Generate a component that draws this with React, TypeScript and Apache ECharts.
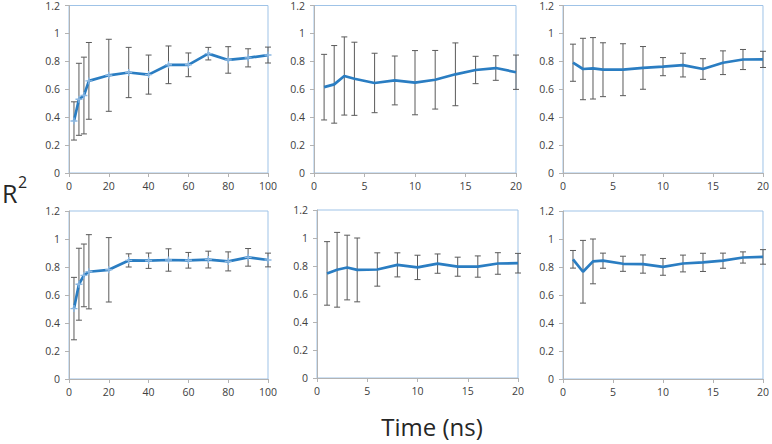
import React, { useEffect, useRef } from "react";
import * as echarts from "echarts";

const timeLong = [2.5, 5, 7.5, 10, 20, 30, 40, 50, 60, 70, 80, 90, 100];
const timeShort = [1, 2, 3, 4, 6, 8, 10, 12, 14, 16, 18, 20];

const p1Mean = [0.373, 0.528, 0.555, 0.66, 0.7, 0.72, 0.705, 0.775, 0.775, 0.855, 0.81, 0.825, 0.845];
const p1Err = [0.137, 0.258, 0.275, 0.275, 0.258, 0.18, 0.14, 0.135, 0.085, 0.045, 0.095, 0.065, 0.057];

const p2Mean = [0.615, 0.635, 0.695, 0.675, 0.645, 0.663, 0.647, 0.668, 0.707, 0.738, 0.752, 0.722];
const p2Err = [0.235, 0.278, 0.28, 0.262, 0.213, 0.175, 0.23, 0.21, 0.225, 0.098, 0.088, 0.123];

const p3Mean = [0.79, 0.745, 0.75, 0.74, 0.74, 0.753, 0.762, 0.773, 0.745, 0.79, 0.813, 0.814];
const p3Err = [0.133, 0.22, 0.22, 0.193, 0.186, 0.153, 0.065, 0.085, 0.074, 0.085, 0.072, 0.058];

const p4Mean = [0.503, 0.677, 0.74, 0.766, 0.78, 0.847, 0.845, 0.85, 0.848, 0.853, 0.84, 0.869, 0.85];
const p4Err = [0.223, 0.257, 0.224, 0.265, 0.23, 0.047, 0.055, 0.08, 0.056, 0.06, 0.068, 0.063, 0.049];

const p5Mean = [0.747, 0.773, 0.789, 0.772, 0.775, 0.808, 0.79, 0.817, 0.795, 0.796, 0.818, 0.82];
const p5Err = [0.227, 0.267, 0.231, 0.228, 0.119, 0.086, 0.087, 0.069, 0.068, 0.076, 0.077, 0.07];

const p6Mean = [0.855, 0.766, 0.84, 0.845, 0.823, 0.821, 0.801, 0.825, 0.833, 0.845, 0.868, 0.872];
const p6Err = [0.063, 0.224, 0.16, 0.054, 0.054, 0.065, 0.06, 0.06, 0.065, 0.054, 0.04, 0.052];

const yTicks = { min: 0, max: 1.2, interval: 0.2 };
const xLongTicks = { min: 0, max: 100, interval: 20 };
const xShortTicks = { min: 0, max: 20, interval: 5 };

const panels = [
  { x: timeLong, mean: p1Mean, err: p1Err, ticks: xLongTicks, marker: true, grid: { left: 69, top: 5, width: 199, height: 168 } },
  { x: timeShort, mean: p2Mean, err: p2Err, ticks: xShortTicks, marker: false, grid: { left: 314, top: 5, width: 202, height: 168 } },
  { x: timeShort, mean: p3Mean, err: p3Err, ticks: xShortTicks, marker: false, grid: { left: 563, top: 5, width: 202, height: 168 } },
  { x: timeLong, mean: p4Mean, err: p4Err, ticks: xLongTicks, marker: true, grid: { left: 69, top: 211, width: 199, height: 168 } },
  { x: timeShort, mean: p5Mean, err: p5Err, ticks: xShortTicks, marker: false, grid: { left: 317, top: 210, width: 201, height: 168 } },
  { x: timeShort, mean: p6Mean, err: p6Err, ticks: xShortTicks, marker: false, grid: { left: 563, top: 211, width: 202, height: 168 } },
];

const FONT = "'Open Sans', sans-serif";
const LABEL_COLOR = "#404040";
const AXIS_COLOR = "#b3b3b3";
const BORDER_COLOR = "#9fc3e7";
const LINE_COLOR = "#2a7dc2";
const ERR_COLOR = "#5a5a5a";

export default function App() {
  const ref = useRef<HTMLDivElement>(null);
  useEffect(() => {
    if (!ref.current) return;
    const chart = echarts.init(ref.current, null, { renderer: "svg" });

    const grid: any[] = [];
    const xAxis: any[] = [];
    const yAxis: any[] = [];
    const series: any[] = [];

    panels.forEach((p, i) => {
      grid.push({
        ...p.grid,
        show: true,
        borderColor: BORDER_COLOR,
        borderWidth: 1,
        backgroundColor: "#ffffff",
        containLabel: false,
      });
      xAxis.push({
        type: "value",
        gridIndex: i,
        min: p.ticks.min,
        max: p.ticks.max,
        interval: p.ticks.interval,
        splitLine: { show: false },
        axisLine: { show: true, onZero: false, lineStyle: { color: AXIS_COLOR, width: 1 } },
        axisTick: { show: true, inside: false, length: 4, lineStyle: { color: AXIS_COLOR } },
        axisLabel: { color: LABEL_COLOR, fontFamily: FONT, fontSize: 10.5, margin: 7, showMaxLabel: true, showMinLabel: true },
      });
      yAxis.push({
        type: "value",
        gridIndex: i,
        min: yTicks.min,
        max: yTicks.max,
        interval: yTicks.interval,
        splitLine: { show: false },
        axisLine: { show: true, lineStyle: { color: AXIS_COLOR, width: 1 } },
        axisTick: { show: true, inside: false, length: 4, lineStyle: { color: AXIS_COLOR } },
        axisLabel: { color: LABEL_COLOR, fontFamily: FONT, fontSize: 10.5, margin: 9 },
      });
      const errData = p.x.map((t, k) => [t, p.mean[k] - p.err[k], p.mean[k] + p.err[k]]);
      series.push({
        type: "custom",
        xAxisIndex: i,
        yAxisIndex: i,
        clip: false,
        z: 1,
        data: errData,
        renderItem: (_params: any, api: any) => {
          const x = api.value(0);
          const lo = api.coord([x, api.value(1)]);
          const hi = api.coord([x, api.value(2)]);
          const w = 3;
          const style = { stroke: ERR_COLOR, lineWidth: 1 };
          return {
            type: "group",
            children: [
              { type: "line", shape: { x1: hi[0], y1: hi[1], x2: lo[0], y2: lo[1] }, style },
              { type: "line", shape: { x1: hi[0] - w, y1: hi[1], x2: hi[0] + w, y2: hi[1] }, style },
              { type: "line", shape: { x1: lo[0] - w, y1: lo[1], x2: lo[0] + w, y2: lo[1] }, style },
            ],
          };
        },
      });
      series.push({
        type: "line",
        xAxisIndex: i,
        yAxisIndex: i,
        z: 2,
        data: p.x.map((t, k) => [t, p.mean[k]]),
        lineStyle: { color: LINE_COLOR, width: 2.7 },
        itemStyle: { color: "#8cb8e2" },
        showSymbol: p.marker,
        symbol: p.marker ? "path://M4,0H6V4H10V6H6V10H4V6H0V4H4Z" : "none",
        symbolSize: 7,
        clip: false,
      });
    });

    chart.setOption({
      animation: false,
      backgroundColor: "#ffffff",
      grid,
      xAxis,
      yAxis,
      series,
      graphic: [
        { type: "text", left: 2, top: 180, style: { text: "R", font: `25px ${FONT}`, fill: "#262626" } },
        { type: "text", left: 18, top: 174, style: { text: "2", font: `16px ${FONT}`, fill: "#262626" } },
        {
          type: "text",
          x: 432,
          y: 426,
          style: { text: "Time (ns)", font: `24px ${FONT}`, fill: "#262626", align: "center", verticalAlign: "middle" },
        },
      ],
    });
    return () => chart.dispose();
  }, []);
  return <div ref={ref} style={{ position: "fixed", left: 0, top: 0, width: 772, height: 444 }} />;
}
